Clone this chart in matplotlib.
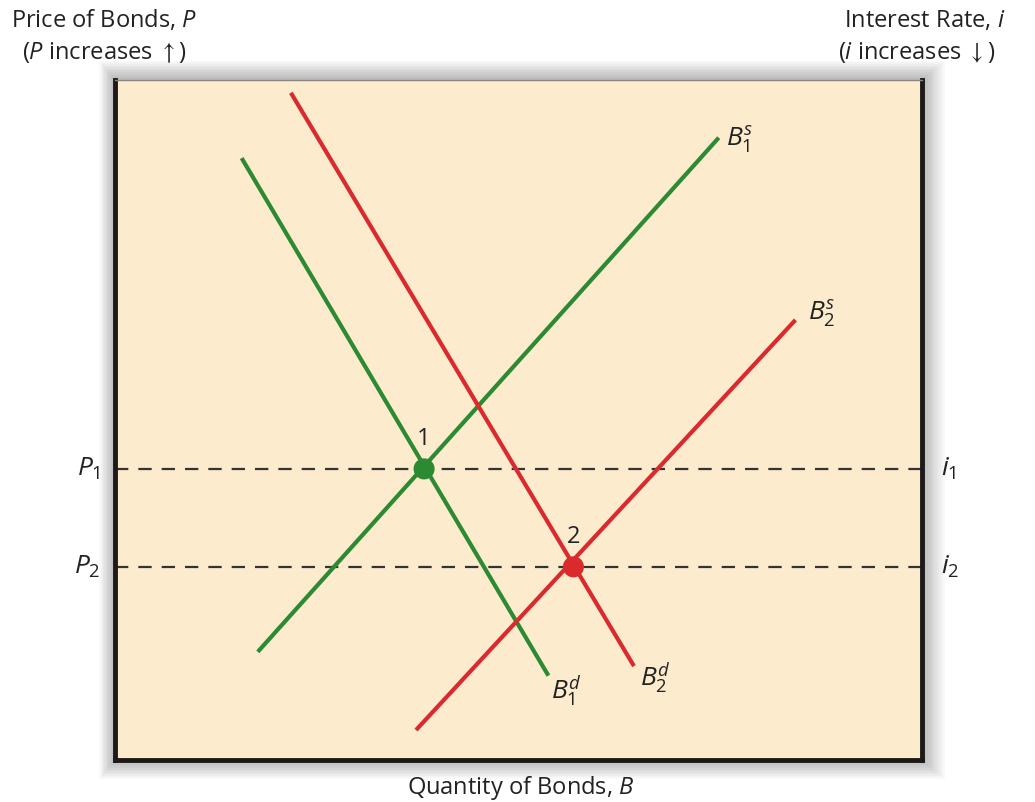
import matplotlib.pyplot as plt
import matplotlib.patches as mpatches

plt.rcParams['font.family'] = ['Open Sans', 'DejaVu Sans']
plt.rcParams['mathtext.fontset'] = 'custom'
plt.rcParams['mathtext.rm'] = 'Open Sans'
plt.rcParams['mathtext.it'] = 'Open Sans:italic'
plt.rcParams['mathtext.fallback'] = 'stixsans'

# curve endpoints (quantity, price) on a 0-100 scale
b1d_q = [15.7, 53.7]
b1d_p = [88.5, 12.4]
b1s_q = [17.7, 74.8]
b1s_p = [15.9, 91.5]
b2d_q = [21.8, 64.3]
b2d_p = [98.1, 13.8]
b2s_q = [37.3, 84.3]
b2s_p = [4.4, 64.7]

# equilibria
eq_q = [38.3, 56.8]
eq_p = [42.8, 28.4]
eq_labels = ['1', '2']

GREEN = '#2b8a32'
RED = '#db2a2e'
BG = '#fdebcd'
INK = '#222222'

fig = plt.figure(figsize=(10.35, 8.02), dpi=100)
ax = fig.add_axes([0.111, 0.0524, 0.780, 0.848])

# soft drop shadow around the box, darker close to the edge
for i in range(12):
    pad = 0.0018 * (12 - i)
    sh = mpatches.Rectangle((0.111 - pad * 0.7, 0.0524 - pad * 1.1),
                            0.780 + pad * 1.7, 0.848 + pad * 2.2,
                            transform=fig.transFigure, facecolor='k',
                            alpha=0.022, edgecolor='none', zorder=-5)
    fig.patches.append(sh)

ax.set_facecolor(BG)
ax.set_xlim(0, 100)
ax.set_ylim(0, 100)
ax.set_xticks([])
ax.set_yticks([])
for s in ['left', 'right', 'bottom']:
    ax.spines[s].set_linewidth(3.5)
    ax.spines[s].set_color('#1c1a18')
ax.spines['top'].set_linewidth(1)
ax.spines['top'].set_color('#8a8580')

for p in eq_p:
    ax.axhline(p, color='#333333', lw=1.6, dashes=(6, 4.5), zorder=1)

ax.plot(b1d_q, b1d_p, color=GREEN, lw=3, solid_capstyle='butt', zorder=2)
ax.plot(b1s_q, b1s_p, color=GREEN, lw=3, solid_capstyle='butt', zorder=2)
ax.plot(b2d_q, b2d_p, color=RED, lw=3, solid_capstyle='butt', zorder=2)
ax.plot(b2s_q, b2s_p, color=RED, lw=3, solid_capstyle='butt', zorder=2)

ax.scatter(eq_q, eq_p, s=230, c=[GREEN, RED], zorder=3, edgecolors='none')
for q, p, lab in zip(eq_q, eq_p, eq_labels):
    ax.annotate(lab, (q, p), xytext=(0, 13), textcoords='offset points',
                ha='center', va='bottom', fontsize=17, color=INK)

# curve labels
lab_kw = dict(fontsize=19, color=INK)
ax.annotate(r'$B_1^s$', (b1s_q[1], b1s_p[1]), xytext=(5, -1),
            textcoords='offset points', ha='left', va='center', **lab_kw)
ax.annotate(r'$B_2^s$', (b2s_q[1], b2s_p[1]), xytext=(9, 5),
            textcoords='offset points', ha='left', va='center', **lab_kw)
ax.annotate(r'$B_1^d$', (b1d_q[1], b1d_p[1]), xytext=(2, -11),
            textcoords='offset points', ha='left', va='center', **lab_kw)
ax.annotate(r'$B_2^d$', (b2d_q[1], b2d_p[1]), xytext=(4, -9),
            textcoords='offset points', ha='left', va='center', **lab_kw)

# price / rate level labels
for p, pl, il in zip(eq_p, [r'$P_1$', r'$P_2$'], [r'$i_1$', r'$i_2$']):
    ax.text(-1.8, p, pl, ha='right', va='center', fontsize=19, color=INK)
    ax.text(102.3, p, il, ha='left', va='center', fontsize=19, color=INK)

fig.text(0.101, 0.974, r'Price of Bonds, $P$', ha='center', va='center',
         fontsize=17, color=INK)
fig.text(0.101, 0.935, r'($P$ increases $\uparrow$)', ha='center', va='center',
         fontsize=17, color=INK)
fig.text(0.971, 0.974, r'Interest Rate, $i$', ha='right', va='center',
         fontsize=17, color=INK)
fig.text(0.962, 0.935, r'($i$ increases $\downarrow$)', ha='right', va='center',
         fontsize=17, color=INK)
fig.text(0.503, 0.018, r'Quantity of Bonds, $B$', ha='center', va='center',
         fontsize=17, color=INK)

fig.savefig('out.png', dpi=100, facecolor='white')
